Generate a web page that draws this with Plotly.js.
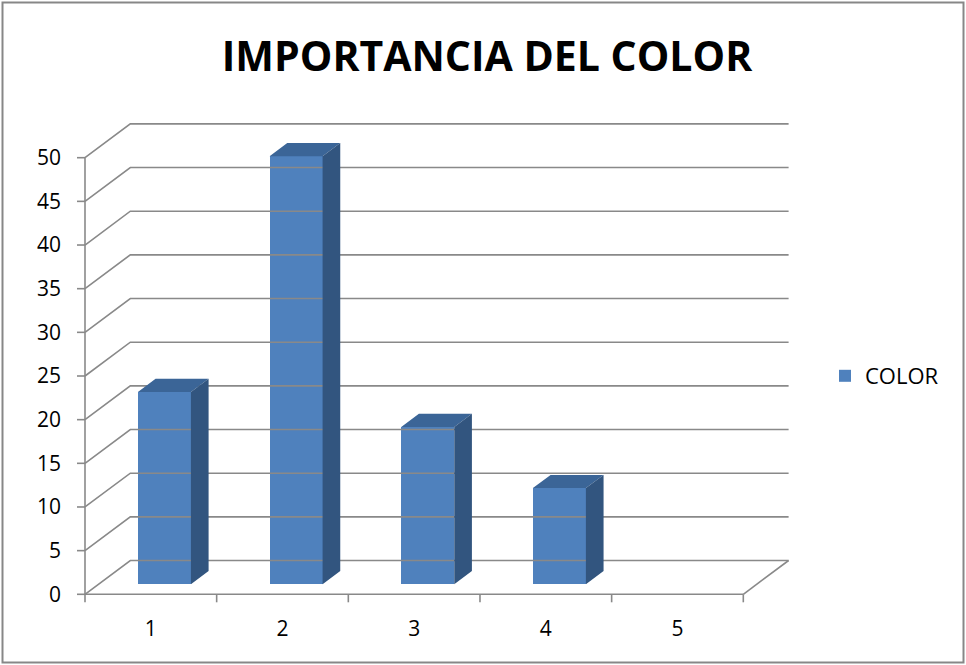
<!DOCTYPE html>
<html>
<head>
<meta charset="utf-8">
<script src="https://cdn.plot.ly/plotly-3.0.1.min.js"></script>
<style>html,body{margin:0;padding:0;background:#fff;}#chart{width:966px;height:665px;}</style>
</head>
<body>
<div id="chart"></div>
<script>
// ---- data ----
const categories = [1, 2, 3, 4, 5];
const values = [22, 49, 18, 11, 0];
const yTickVals = [0, 5, 10, 15, 20, 25, 30, 35, 40, 45, 50];
const seriesName = 'COLOR';
const chartTitle = 'IMPORTANCIA DEL COLOR';

// ---- geometry (pixel calibration of the pseudo-3D frame) ----
const W = 966, H = 665;
const KX = 131.66;      // px per category
const KY = 8.732;       // px per value unit
const AX0 = 85;         // px of x = first-0.5
const AY0 = 594.3;      // px of y = 0
const L = 70, R = 794, T = 116, B = 606;
const DX = 45.3 / KX;   // depth offset in x units
const DY = 33.8 / KY;   // depth offset in y units
const ZF = 0.30, ZB = 0.69;
const BW = 53 / KX;
const TICK_X = 8 / KY, TICK_Y = 8 / KX;

const xStart = categories[0] - 0.5;
const xEnd = categories[categories.length - 1] + 0.5;
const yMax = yTickVals[yTickVals.length - 1];

const xr0 = xStart - (AX0 - L) / KX;
const xr1 = xStart + (R - AX0) / KX;
const yr0 = -(B - AY0) / KY;
const yr1 = (AY0 - T) / KY;

const GRID = '#898989';

// gridlines on left wall and back wall
const gx = [], gy = [];
yTickVals.forEach(v => {
  gx.push(xStart, xStart + DX, xEnd + DX, null);
  gy.push(v, v + DY, v + DY, null);
});
// floor right edge
gx.push(xEnd, xEnd + DX, null); gy.push(0, DY, null);

// axes lines + tick marks
const ax = [], ay = [];
ax.push(xStart, xEnd, null); ay.push(0, 0, null);
for (let b = xStart; b <= xEnd + 1e-9; b += 1) { ax.push(b, b, null); ay.push(0, -TICK_X, null); }
ax.push(xStart, xStart, null); ay.push(0, yMax, null);
yTickVals.forEach(v => { ax.push(xStart - TICK_Y, xStart, null); ay.push(v, v, null); });

// bar top and side faces
const tx = [], ty = [], sx = [], sy = [];
const dzx = (ZB - ZF) * DX, dzy = (ZB - ZF) * DY;
categories.forEach((c, i) => {
  const v = values[i];
  if (!(v > 0)) return;
  const cx = c + ZF * DX;
  const xl = cx - BW / 2, xr = cx + BW / 2;
  const yb = ZF * DY, yt = ZF * DY + v;
  tx.push(xl, xr, xr + dzx, xl + dzx, xl, null);
  ty.push(yt, yt, yt + dzy, yt + dzy, yt, null);
  sx.push(xr, xr, xr + dzx, xr + dzx, xr, null);
  sy.push(yb, yt, yt + dzy, yb + dzy, yb, null);
});

const traces = [
  {type: 'scatter', mode: 'lines', x: gx, y: gy, line: {color: GRID, width: 1.6}, hoverinfo: 'skip', showlegend: false},
  {type: 'scatter', mode: 'lines', x: ax, y: ay, line: {color: GRID, width: 1.6}, hoverinfo: 'skip', showlegend: false},
  {type: 'bar', name: seriesName, x: categories.map(c => c + ZF * DX), y: values,
   base: ZF * DY, width: BW, marker: {color: '#4F81BD', line: {width: 0}}, showlegend: true},
  {type: 'scatter', mode: 'lines', x: tx, y: ty, fill: 'toself', fillcolor: '#3B6597',
   line: {width: 0, color: '#3B6597'}, hoverinfo: 'skip', showlegend: false},
  {type: 'scatter', mode: 'lines', x: sx, y: sy, fill: 'toself', fillcolor: '#32557F',
   line: {width: 0, color: '#32557F'}, hoverinfo: 'skip', showlegend: false}
];

const layout = {
  width: W, height: H,
  margin: {l: L, r: W - R, t: T, b: H - B},
  paper_bgcolor: '#ffffff', plot_bgcolor: 'rgba(0,0,0,0)',
  font: {family: 'Open Sans, Noto Sans, sans-serif', color: '#000000', size: 21},
  title: {text: '<b>' + chartTitle + '</b>', x: 487 / W, xref: 'container', xanchor: 'center',
          y: 1 - 57 / H, yref: 'container', yanchor: 'middle',
          font: {family: 'Open Sans, sans-serif', size: 41, color: '#000000'}},
  xaxis: {range: [xr0, xr1], tickmode: 'array', tickvals: categories, ticktext: categories.map(String),
          ticks: '', showgrid: false, zeroline: false, showline: false, ticklabelstandoff: 8,
          tickfont: {size: 21}, fixedrange: true},
  yaxis: {range: [yr0, yr1], tickmode: 'array', tickvals: yTickVals, ticktext: yTickVals.map(String),
          ticks: '', showgrid: false, zeroline: false, showline: false, ticklabelstandoff: 8,
          tickfont: {size: 21}, fixedrange: true},
  showlegend: true,
  legend: {xref: 'container', yref: 'container', x: 825 / W, y: 1 - 376 / H, xanchor: 'left', yanchor: 'middle',
           font: {size: 22}, bgcolor: 'rgba(0,0,0,0)', borderwidth: 0},
  shapes: [{type: 'rect', xref: 'paper', yref: 'paper',
            x0: (2.5 - L) / (R - L), x1: (963.5 - L) / (R - L),
            y0: (B - 662.5) / (B - T), y1: (B - 2.5) / (B - T),
            line: {color: '#878787', width: 2}, fillcolor: 'rgba(0,0,0,0)', layer: 'below'}],
  bargap: 0
};

Plotly.newPlot('chart', traces, layout, {displayModeBar: false, staticPlot: true});
</script>
</body>
</html>
